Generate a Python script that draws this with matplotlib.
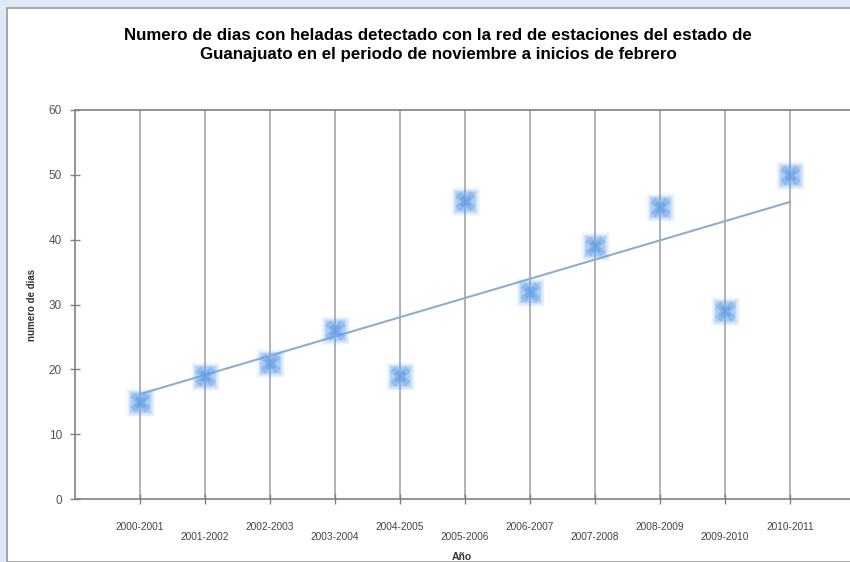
import matplotlib
matplotlib.use('Agg')
import matplotlib.pyplot as plt
from matplotlib.patches import Rectangle
import numpy as np

# Días con helada por temporada (nov - inicios de feb)
temporadas = ['2000-2001', '2001-2002', '2002-2003', '2003-2004', '2004-2005',
              '2005-2006', '2006-2007', '2007-2008', '2008-2009', '2009-2010',
              '2010-2011']
dias_helada = [15, 19, 21, 26, 19, 46, 32, 39, 45, 29, 50]

plt.rcParams['font.family'] = ['Liberation Sans', 'DejaVu Sans']

W, H = 850, 562
fig = plt.figure(figsize=(W / 100, H / 100), dpi=100)
fig.patch.set_facecolor('#dfe9f5')
# marco blanco del gráfico
fig.patches.append(Rectangle((7 / W, 0), 1, 1 - 8 / H, transform=fig.transFigure,
                             facecolor='white', edgecolor='#9a9a9a', lw=1.2, zorder=-5))

ax = fig.add_axes([75 / W, 63 / H, 780 / W, 389 / H])
ax.set_facecolor('none')
x = np.arange(1, len(temporadas) + 1)
y = np.array(dias_helada)

# línea de tendencia lineal
m, b = np.polyfit(x, y, 1)
ax.plot([x[0], x[-1]], [m * x[0] + b, m * x[-1] + b], color='#8caed3', lw=1.5, zorder=2)

# marcadores difuminados (capas semitransparentes)
for ms, a in [(20, 0.10), (18, 0.15), (16, 0.2), (14, 0.25)]:
    ax.plot(x, y, ls='none', marker='s', ms=ms, color='#6fa8ec', mec='none', alpha=a, zorder=3)
ax.plot(x, y, ls='none', marker='X', ms=14, color='#6aa4ea', mec='none', alpha=0.45, zorder=4)
ax.plot(x, y, ls='none', marker='X', ms=9, color='#5b9be6', mec='none', alpha=0.5, zorder=5)

ax.set_xlim(0, 12)
ax.set_ylim(0, 60)
ax.set_yticks(range(0, 61, 10))
ax.set_xticks(x)
etiquetas = [t if i % 2 == 0 else '\n' + t for i, t in enumerate(temporadas)]
ax.set_xticklabels(etiquetas, fontsize=7.3, color='#444444', linespacing=0.95)
ax.tick_params(axis='x', direction='inout', length=7, width=1, color='#808080', pad=13)
ax.tick_params(axis='y', direction='inout', length=7, width=1, color='#808080',
               labelsize=8.5, labelcolor='#555555', pad=6)
ax.grid(axis='x', color='#ababab', lw=1.3)
ax.set_axisbelow(True)
for s in ax.spines.values():
    s.set_color('#808080')
    s.set_linewidth(1.2)

ax.set_ylabel('numero de dias', fontsize=7, fontweight='bold', color='#333333')
ax.yaxis.set_label_coords(-38 / 780, 0.5)
fig.text(462 / W, 1 - 557 / H, 'Año', fontsize=7.5, fontweight='bold', color='#333333',
         ha='center', va='center')

fig.text(438 / W, 1 - 45 / H,
         'Numero de dias con heladas detectado con la red de estaciones del estado de\n'
         'Guanajuato en el periodo de noviembre a inicios de febrero',
         fontsize=12.2, fontweight='bold', ha='center', va='center', linespacing=1.35)

fig.savefig('out.png', dpi=100, facecolor=fig.get_facecolor())
